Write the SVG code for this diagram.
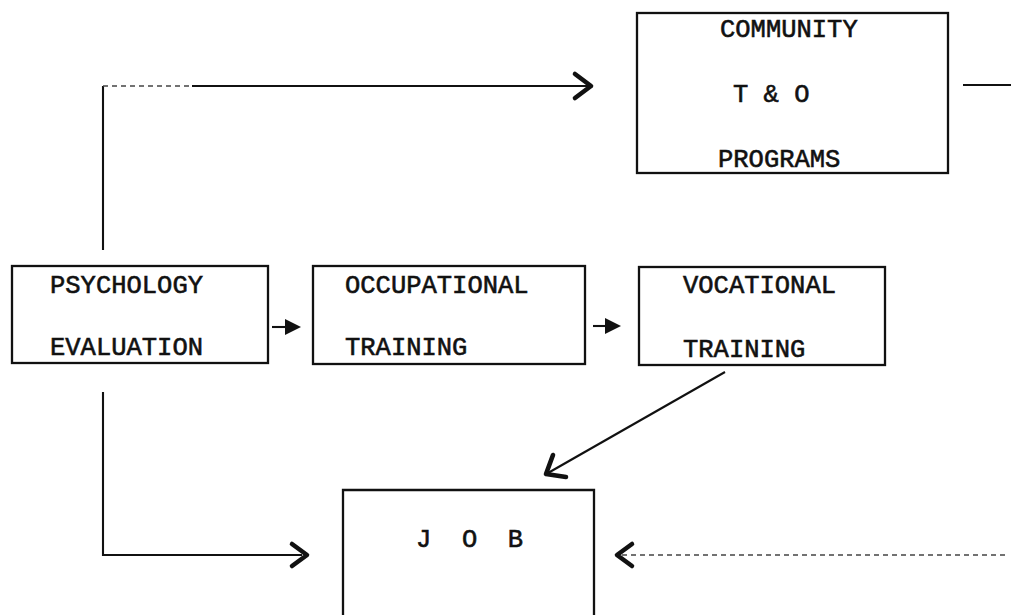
<svg xmlns="http://www.w3.org/2000/svg" width="1011" height="615" viewBox="0 0 1011 615">
  <style>
    .box { fill: none; stroke: #111; stroke-width: 2.3; }
    .lbl { font-family: "Liberation Mono", "Courier New", monospace; font-size: 25.5px; fill: #111; stroke: #111; stroke-width: 0.6; }
    .wire { fill: none; stroke: #111; stroke-width: 2.1; }
    .faint { fill: none; stroke: #444; stroke-width: 1.4; stroke-dasharray: 5 4; }
    .chev { fill: none; stroke: #111; stroke-width: 4.6; stroke-linecap: round; stroke-linejoin: round; }
    .tri { fill: #111; }
  </style>
  <rect width="1011" height="615" fill="#fff"/>

  <g id="connectors">
    <!-- from Psychology Evaluation up and across to Community T & O Programs -->
    <path class="wire" d="M103 250 L103 86"/>
    <path class="faint" d="M103 86 L192 86"/>
    <path class="wire" d="M192 86 L588 86"/>
    <path class="chev" d="M575 74 L591 86 L575 98"/>

    <!-- exit line on the right of Community box -->
    <path class="wire" d="M963 85 L1011 85"/>

    <!-- Psychology Evaluation -> Occupational Training -->
    <path class="wire" d="M272 327 L290 327"/>
    <path class="tri" d="M285 319 L301 327 L285 335 Z"/>

    <!-- Occupational Training -> Vocational Training -->
    <path class="wire" d="M593 326 L610 326"/>
    <path class="tri" d="M605 318 L621 326 L605 334 Z"/>

    <!-- Vocational Training -> Job (diagonal) -->
    <path class="wire" d="M725 372 L548 473"/>
    <path class="chev" d="M553 455 L546 474 L566 477"/>

    <!-- Psychology Evaluation down and across to Job -->
    <path class="wire" d="M103 392 L103 555 L302 555"/>
    <path class="chev" d="M292 544 L307 555 L292 566"/>

    <!-- dotted return into Job from the right -->
    <path class="faint" d="M622 555 L1005 555"/>
    <path class="chev" d="M632 544 L617 555 L632 566"/>
  </g>

  <g id="community">
    <rect class="box" x="637" y="13" width="311" height="160"/>
    <text class="lbl" x="720" y="37">COMMUNITY</text>
    <text class="lbl" x="733" y="102">T &amp; O</text>
    <text class="lbl" x="718" y="167">PROGRAMS</text>
  </g>

  <g id="psychology">
    <rect class="box" x="12" y="266" width="256" height="97"/>
    <text class="lbl" x="50" y="293">PSYCHOLOGY</text>
    <text class="lbl" x="50" y="355">EVALUATION</text>
  </g>

  <g id="occupational">
    <rect class="box" x="313" y="266" width="272" height="98"/>
    <text class="lbl" x="345" y="293">OCCUPATIONAL</text>
    <text class="lbl" x="345" y="355">TRAINING</text>
  </g>

  <g id="vocational">
    <rect class="box" x="639" y="267" width="246" height="98"/>
    <text class="lbl" x="683" y="293">VOCATIONAL</text>
    <text class="lbl" x="683" y="357">TRAINING</text>
  </g>

  <g id="job">
    <path class="box" d="M343 622 L343 490 L594 490 L594 622"/>
    <text class="lbl" x="416" y="547" xml:space="preserve">J  O  B</text>
  </g>
</svg>
